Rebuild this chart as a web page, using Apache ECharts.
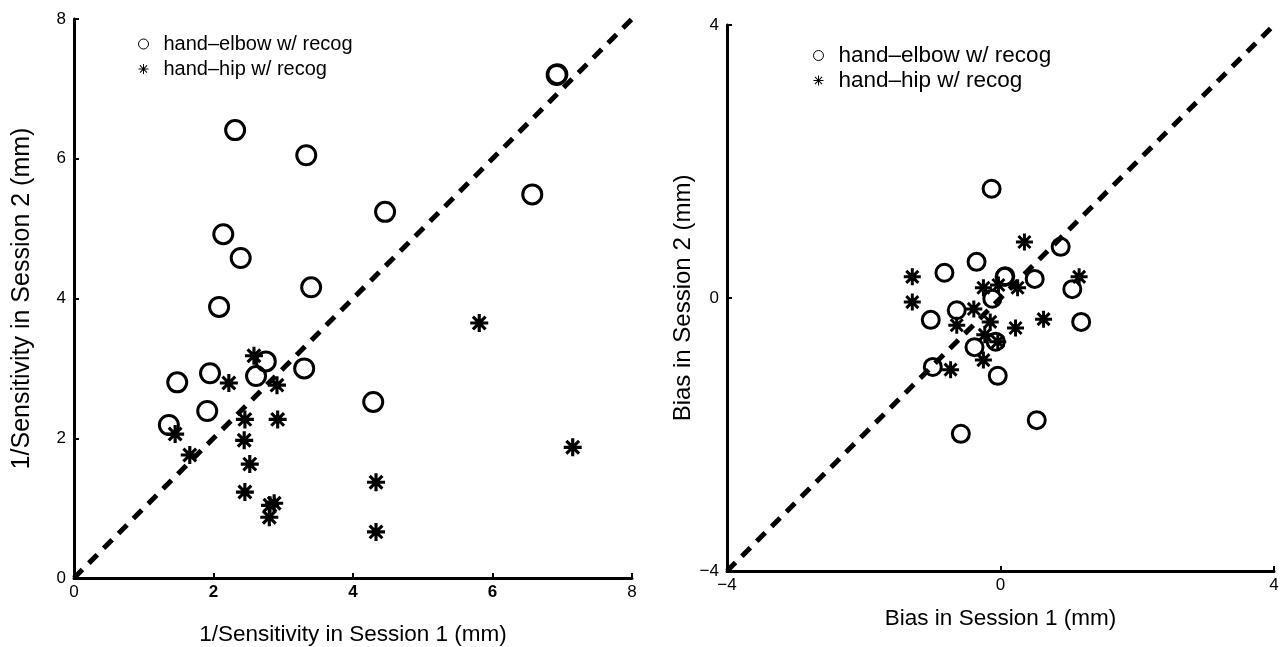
<!DOCTYPE html>
<html>
<head>
<meta charset="utf-8">
<script src="https://cdn.jsdelivr.net/npm/echarts@6/dist/echarts.min.js"></script>
<style>
html,body{margin:0;padding:0;background:#fff;}
#c{width:1281px;height:647px;}
</style>
</head>
<body>
<div id="c"></div>
<script>
// ---- Data ----
const seriesNames = ['hand\u2013elbow w/ recog', 'hand\u2013hip w/ recog'];

// Left panel: 1/Sensitivity (mm), [Session 1, Session 2]
const sensElbow = [
  [6.92, 7.20], [6.93, 7.21], [2.31, 6.41], [3.33, 6.05], [6.57, 5.49], [4.46, 5.24],
  [2.14, 4.92], [2.39, 4.58], [3.40, 4.16], [2.08, 3.88], [2.75, 3.10],
  [2.61, 2.89], [1.95, 2.93], [3.30, 3.00], [1.48, 2.80], [1.91, 2.39],
  [1.36, 2.19], [4.29, 2.52]
];
const sensHip = [
  [2.58, 3.18], [2.22, 2.79], [2.91, 2.76], [2.45, 2.27], [2.92, 2.27],
  [1.45, 2.06], [2.44, 1.97], [1.66, 1.76], [2.52, 1.63], [2.45, 1.23],
  [2.87, 1.07], [2.81, 1.04], [2.80, 0.87], [4.33, 1.37], [4.33, 0.66],
  [5.81, 3.65], [7.15, 1.87]
];
// Right panel: Bias (mm), [Session 1, Session 2]
const biasElbow = [
  [-0.13, 1.60], [0.88, 0.75], [-0.35, 0.53], [-0.82, 0.37], [0.06, 0.31], [0.07, 0.32],
  [0.50, 0.28], [1.05, 0.13], [-0.12, -0.01], [-0.64, -0.18], [-1.02, -0.32],
  [1.18, -0.35], [-0.38, -0.72], [-0.07, -0.64], [-0.99, -1.01], [-0.04, -1.14],
  [0.53, -1.79], [-0.58, -1.99]
];
const biasHip = [
  [0.35, 0.82], [-1.29, 0.31], [1.15, 0.31], [-1.29, -0.06], [-0.25, 0.15],
  [-0.03, 0.19], [0.25, 0.15], [-0.39, -0.16], [-0.15, -0.35], [-0.64, -0.40],
  [0.22, -0.44], [0.63, -0.31], [-0.23, -0.54], [-0.04, -0.64], [-0.25, -0.91],
  [-0.73, -1.05]
];
// identity lines and axis ranges
const sensRange = [0, 8];
const biasRange = [-4, 4];
const sensTicks = 2;
const biasTicks = 4;

// ---- Styling helpers ----
function asteriskPath(h) {
  const r = 10, d = 7.071;
  const o = h / Math.SQRT2;
  const f = n => n.toFixed(3);
  const pts = [
    [[-h,-r],[h,-r],[h,r],[-h,r]],
    [[-r,-h],[r,-h],[r,h],[-r,h]],
    [[-d-o,-d+o],[-d+o,-d-o],[d+o,d-o],[d-o,d+o]],
    [[-d-o,d-o],[d-o,-d-o],[d+o,-d+o],[-d+o,d+o]]
  ];
  return 'path://' + pts.map(p => 'M' + p.map(q => f(q[0]) + ',' + f(q[1])).join('L') + 'Z').join('');
}
const starBold = asteriskPath(1.75);
const starThin = asteriskPath(1.0);
const FONT = '"Liberation Sans", Arial, Helvetica, sans-serif';
const minus = v => String(v).replace('-', '\u2212');

function axisCommon(extra, nameSize) {
  return Object.assign({
    type: 'value',
    splitLine: { show: false },
    axisLine: { show: true, onZero: false, lineStyle: { color: '#000', width: 3 } },
    axisTick: { show: true, inside: true, length: 5, lineStyle: { color: '#000', width: 2 } },
    nameLocation: 'middle',
    nameTextStyle: { color: '#000', fontSize: nameSize, fontFamily: FONT }
  }, extra);
}
const tickLabel = (margin) => ({ color: '#000', fontSize: 17, fontFamily: FONT, margin: margin, formatter: minus });

function legendFor(left, top, fontSize, gap) {
  return {
    left: left, top: top, orient: 'vertical', itemGap: gap, itemWidth: 30, itemHeight: 10,
    textStyle: { color: '#000', fontSize: fontSize, fontFamily: FONT },
    data: [
      { name: seriesNames[0], icon: 'circle', itemStyle: { color: '#fff', borderColor: '#000', borderWidth: 1 } },
      { name: seriesNames[1], icon: starThin, itemStyle: { color: '#000', borderWidth: 0 } }
    ]
  };
}

const chart = echarts.init(document.getElementById('c'), null, { renderer: 'canvas' });
chart.setOption({
  animation: false,
  backgroundColor: '#fff',
  grid: [
    { left: 74, top: 19, width: 558, height: 559, containLabel: false, outerBoundsMode: 'none' },
    { left: 727, top: 25, width: 547, height: 546, containLabel: false, outerBoundsMode: 'none' }
  ],
  xAxis: [
    axisCommon({
      gridIndex: 0, min: sensRange[0], max: sensRange[1], interval: sensTicks,
      name: '1/Sensitivity in Session 1 (mm)', nameGap: 45,
      axisLabel: Object.assign(tickLabel(6), {
        formatter: v => (v === 2 || v === 4 || v === 6) ? '{b|' + v + '}' : String(v),
        rich: { b: { fontWeight: 'bold', fontSize: 17, fontFamily: FONT, color: '#000' } }
      })
    }, 22.5),
    axisCommon({
      gridIndex: 1, min: biasRange[0], max: biasRange[1], interval: biasTicks,
      name: 'Bias in Session 1 (mm)', nameGap: 36,
      axisLabel: tickLabel(6)
    }, 22.5)
  ],
  yAxis: [
    axisCommon({
      gridIndex: 0, min: sensRange[0], max: sensRange[1], interval: sensTicks,
      name: '1/Sensitivity in Session 2 (mm)', nameGap: 39,
      axisLabel: tickLabel(8)
    }, 25),
    axisCommon({
      gridIndex: 1, min: biasRange[0], max: biasRange[1], interval: biasTicks,
      name: 'Bias in Session 2 (mm)', nameGap: 20,
      axisLabel: tickLabel(8)
    }, 24)
  ],
  legend: [
    legendFor(133, 29, 20, 5),
    legendFor(808, 39, 22.5, 2)
  ],
  series: [
    {
      type: 'line', xAxisIndex: 0, yAxisIndex: 0, silent: true, symbol: 'none',
      data: [[sensRange[0], sensRange[0]], [sensRange[1], sensRange[1]]],
      lineStyle: { color: '#000', width: 5, type: [12, 9] }, z: 1
    },
    {
      type: 'line', xAxisIndex: 1, yAxisIndex: 1, silent: true, symbol: 'none',
      data: [[biasRange[0], biasRange[0]], [biasRange[1], biasRange[1]]],
      lineStyle: { color: '#000', width: 5, type: [12, 9] }, z: 1
    },
    {
      name: seriesNames[0], type: 'scatter', xAxisIndex: 0, yAxisIndex: 0,
      data: sensElbow, symbol: 'circle', symbolSize: 19,
      itemStyle: { color: 'rgba(0,0,0,0)', borderColor: '#000', borderWidth: 3, opacity: 1 }, z: 3
    },
    {
      name: seriesNames[1], type: 'scatter', xAxisIndex: 0, yAxisIndex: 0,
      data: sensHip, symbol: starBold, symbolSize: 18,
      itemStyle: { color: '#000', opacity: 1 }, z: 3
    },
    {
      name: seriesNames[0], type: 'scatter', xAxisIndex: 1, yAxisIndex: 1,
      data: biasElbow, symbol: 'circle', symbolSize: 17,
      itemStyle: { color: 'rgba(0,0,0,0)', borderColor: '#000', borderWidth: 3, opacity: 1 }, z: 3
    },
    {
      name: seriesNames[1], type: 'scatter', xAxisIndex: 1, yAxisIndex: 1,
      data: biasHip, symbol: starBold, symbolSize: 17,
      itemStyle: { color: '#000', opacity: 1 }, z: 3
    }
  ]
});
</script>
</body>
</html>
